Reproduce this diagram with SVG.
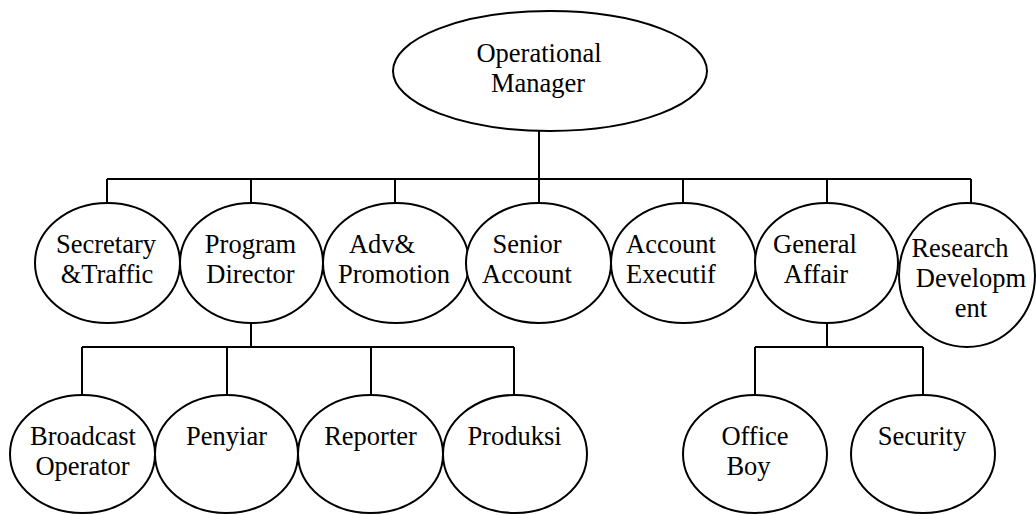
<svg xmlns="http://www.w3.org/2000/svg" width="1036" height="515" viewBox="0 0 1036 515">
<style>
.n{fill:#fff;stroke:#000;stroke-width:2}
.c{fill:none;stroke:#000;stroke-width:2}
text{font-family:'Liberation Serif','Times New Roman',serif;font-size:26.5px;fill:#000;text-anchor:middle}
</style>
<rect width="1036" height="515" fill="#fff"/>
<g id="connectors">
<path class="c" d="M539 131V179M107 179H971M107 179V203M251 179V203M395 179V203M539 179V203M683 179V203M827 179V203M971 179V203"/>
<path class="c" d="M251 323V347M82 347H514M82 347V395M227 347V395M371 347V395M514 347V395"/>
<path class="c" d="M827 323V347M755 347H923M755 347V395M923 347V395"/>
</g>
<g id="operational-manager"><ellipse class="n" cx="550" cy="71" rx="157" ry="60"/><text x="539" y="62">Operational</text><text x="538" y="92">Manager</text></g>
<g id="secretary"><ellipse class="n" cx="107.5" cy="263" rx="72.5" ry="60"/><text x="106" y="253">Secretary</text><text x="107" y="283">&amp;Traffic</text></g>
<g id="program-director"><ellipse class="n" cx="251.5" cy="263" rx="71.5" ry="60"/><text x="250.5" y="253">Program</text><text x="250.5" y="283">Director</text></g>
<g id="adv-promotion"><ellipse class="n" cx="396" cy="263" rx="73" ry="60"/><text x="382" y="253">Adv&amp;</text><text x="394" y="283">Promotion</text></g>
<g id="senior-account"><ellipse class="n" cx="538.5" cy="263" rx="72.5" ry="60"/><text x="527" y="253">Senior</text><text x="527" y="283">Account</text></g>
<g id="account-executif"><ellipse class="n" cx="683.5" cy="263" rx="72.5" ry="60"/><text x="671" y="253">Account</text><text x="671" y="283">Executif</text></g>
<g id="general-affair"><ellipse class="n" cx="826.5" cy="263" rx="71.5" ry="60"/><text x="815" y="253">General</text><text x="816" y="283">Affair</text></g>
<g id="research-development"><ellipse class="n" cx="967" cy="275" rx="68" ry="72"/><text x="960" y="257">Research</text><text x="971" y="287">Developm</text><text x="971" y="317">ent</text></g>
<g id="broadcast-operator"><ellipse class="n" cx="82.5" cy="454" rx="72.5" ry="59"/><text x="83" y="445">Broadcast</text><text x="82.5" y="475">Operator</text></g>
<g id="penyiar"><ellipse class="n" cx="226.5" cy="454" rx="71.5" ry="59"/><text x="226.5" y="445">Penyiar</text></g>
<g id="reporter"><ellipse class="n" cx="370.5" cy="454" rx="72.5" ry="59"/><text x="370.5" y="445">Reporter</text></g>
<g id="produksi"><ellipse class="n" cx="515" cy="454" rx="72" ry="59"/><text x="514.5" y="445">Produksi</text></g>
<g id="office-boy"><ellipse class="n" cx="755" cy="454" rx="72" ry="59"/><text x="755" y="445">Office</text><text x="748.5" y="475">Boy</text></g>
<g id="security"><ellipse class="n" cx="923" cy="454" rx="72" ry="59"/><text x="922" y="445">Security</text></g>
</svg>
